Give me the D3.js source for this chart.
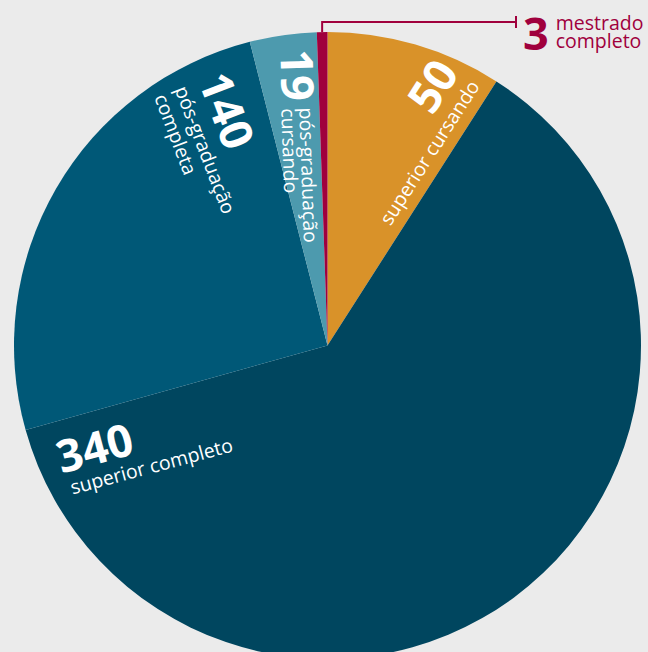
<!DOCTYPE html>
<html>
<head>
<meta charset="utf-8">
<title>Escolaridade</title>
<script src="https://d3js.org/d3.v7.min.js"></script>
<style>
  body { margin: 0; background: #ebebeb; }
  svg { display: block; }
  text { font-family: "Open Sans", sans-serif; }
</style>
</head>
<body>
<script>
// data, in drawing order (clockwise from 12 o'clock)
var categories = ["superior cursando", "superior completo", "pós-graduação completa", "pós-graduação cursando", "mestrado completo"];
var values = [50, 340, 140, 19, 3];
var colors = ["#d99229", "#00465f", "#005877", "#4d9aae", "#a0003d"];
var labelLines = [["superior cursando"], ["superior completo"], ["pós-graduação", "completa"], ["pós-graduação", "cursando"], ["mestrado", "completo"]];

var width = 648, height = 652;
var cx = 327.5, cy = 345.5, radius = 313.5;
var bigSize = 45, smallSize = 19.5;

// label placement (rotation around the pie centre, local offsets)
// mode "stack": number on its own line, text lines under it
// mode "side": number with two text lines to its right
var layout = [
  { mode: "stack", rot: -57.4, x: 301, y: -35, dx: 0, gap: 24, lineGap: 21, anchor: "end" },
  { mode: "stack", rot: -15, x: -290, y: 55, dx: 5, gap: 23, lineGap: 21, anchor: "start" },
  { mode: "stack", rot: 69, x: -294, y: 26, dx: 0, gap: 25, lineGap: 22, anchor: "start" },
  { mode: "side", rot: 88, x: -297, y: 37, smallY: [-17, 1] },
  { mode: "callout" }
];

var svg = d3.select("body").append("svg")
  .attr("width", width)
  .attr("height", height);

var pie = d3.pie().sort(null).value(function(d) { return d; });
var arc = d3.arc().innerRadius(0).outerRadius(radius);
var arcs = pie(values);

var g = svg.append("g")
  .attr("transform", "translate(" + cx + "," + cy + ")");

g.selectAll("path.slice")
  .data(arcs)
  .enter().append("path")
  .attr("class", "slice")
  .attr("d", arc)
  .attr("fill", function(d, i) { return colors[i]; });

// labels inside the pie
arcs.forEach(function(a, i) {
  var L = layout[i];
  if (L.mode == "stack") {
    var lg = g.append("g").attr("transform", "rotate(" + L.rot + ")");
    lg.append("text")
      .attr("x", L.x).attr("y", L.y)
      .attr("text-anchor", L.anchor)
      .attr("fill", "white")
      .attr("font-size", bigSize)
      .attr("font-weight", "bold")
      .text(values[i]);
    labelLines[i].forEach(function(t, k) {
      lg.append("text")
        .attr("x", L.x + L.dx).attr("y", L.y + L.gap + k * L.lineGap)
        .attr("text-anchor", L.anchor)
        .attr("fill", "white")
        .attr("font-size", smallSize)
        .text(t);
    });
  } else if (L.mode == "side") {
    var sg = g.append("g").attr("transform", "rotate(" + L.rot + ")");
    var big = sg.append("text")
      .attr("x", L.x).attr("y", L.y)
      .attr("fill", "white")
      .attr("font-size", bigSize)
      .attr("font-weight", "bold")
      .text(values[i]);
    var bx = L.x + big.node().getComputedTextLength() + 7;
    labelLines[i].forEach(function(t, k) {
      sg.append("text")
        .attr("x", bx).attr("y", L.y + L.smallY[k])
        .attr("fill", "white")
        .attr("font-size", smallSize)
        .text(t);
    });
  } else {
    // callout for the thin slice
    var mid = (a.startAngle + a.endAngle) / 2;
    var px = Math.sin(mid) * radius, py = -Math.cos(mid) * radius;
    var lineY = -radius - 10;
    var endX = 188.5;
    var red = colors[i];
    g.append("path")
      .attr("d", "M" + px + "," + py + "V" + lineY + "H" + endX)
      .attr("fill", "none")
      .attr("stroke", red)
      .attr("stroke-width", 2);
    g.append("line")
      .attr("x1", endX).attr("x2", endX)
      .attr("y1", lineY - 6).attr("y2", lineY + 6)
      .attr("stroke", red)
      .attr("stroke-width", 2);
    var big3 = g.append("text")
      .attr("x", endX + 7).attr("y", lineY + 28)
      .attr("fill", red)
      .attr("font-size", bigSize)
      .attr("font-weight", "bold")
      .text(values[i]);
    var tx = endX + 7 + big3.node().getComputedTextLength() + 7;
    labelLines[i].forEach(function(t, k) {
      g.append("text")
        .attr("x", tx).attr("y", lineY + 8 + k * 18)
        .attr("fill", red)
        .attr("font-size", smallSize)
        .text(t);
    });
  }
});
</script>
</body>
</html>
